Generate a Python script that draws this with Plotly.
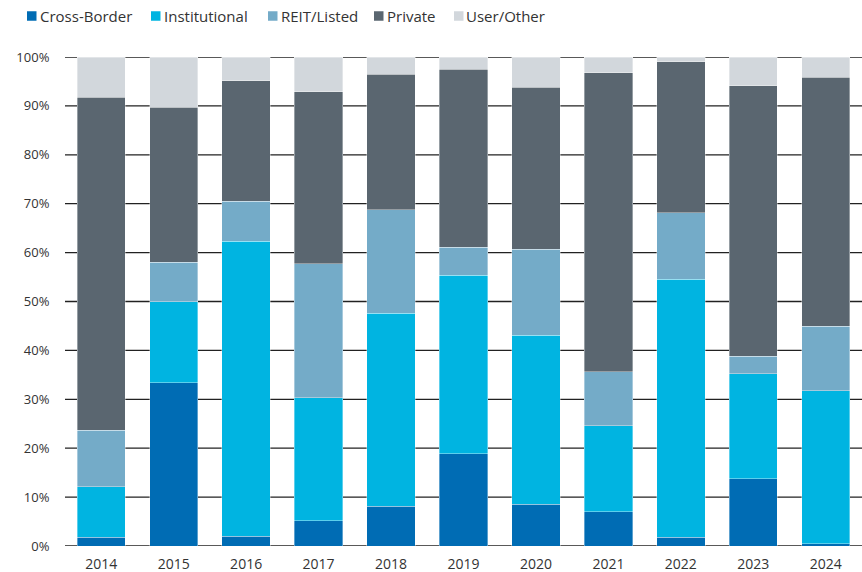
import plotly.graph_objects as go

years = ["2014", "2015", "2016", "2017", "2018", "2019", "2020", "2021", "2022", "2023", "2024"]

cross_border = [1.8, 33.4, 2.0, 5.2, 8.1, 18.9, 8.5, 7.0, 1.8, 13.8, 0.5]
institutional = [10.3, 16.5, 60.3, 25.1, 39.5, 36.5, 34.6, 17.6, 52.8, 21.4, 31.2]
reit_listed = [11.6, 8.1, 8.2, 27.4, 21.2, 5.7, 17.6, 11.0, 13.6, 3.6, 13.2]
private = [68.1, 31.7, 24.6, 35.2, 27.7, 36.4, 33.1, 61.2, 30.8, 55.3, 51.0]
user_other = [8.2, 10.3, 4.9, 7.1, 3.5, 2.5, 6.2, 3.2, 1.0, 5.9, 4.1]

y_ticks = [0, 10, 20, 30, 40, 50, 60, 70, 80, 90, 100]
y_tick_labels = [f"{v}%" for v in y_ticks]

W, H = 862, 572
M_L, M_R, M_T, M_B = 65, 0, 57, 26
PLOT_W = W - M_L - M_R
PLOT_H = H - M_T - M_B


def px_to_paper_x(px):
    return (px - M_L) / PLOT_W


def px_to_paper_y(py):
    return (H - M_B - py) / PLOT_H


# name, values, colour, legend swatch left edge (px)
series = [
    ("Cross-Border", cross_border, "#006cb4", 27),
    ("Institutional", institutional, "#00b4e1", 151),
    ("REIT/Listed", reit_listed, "#74abc8", 268),
    ("Private", private, "#5a6670", 374),
    ("User/Other", user_other, "#d2d7dc", 454),
]

fig = go.Figure()
for name, vals, color, _ in series:
    fig.add_trace(go.Bar(
        x=years, y=vals, name=name,
        marker=dict(color=color, line=dict(color="rgba(255,255,255,0.6)", width=0.6)),
    ))

# horizontal grid lines, kept beneath the bars
shapes = [
    dict(type="line", xref="paper", yref="y", x0=0, x1=1, y0=v, y1=v,
         line=dict(color="#222222", width=1.3), layer="below")
    for v in y_ticks
]

# legend row across the top: colour swatch followed by its label
SWATCH = 9.5
LEG_Y = 16
annotations = []
for name, _, color, sx in series:
    shapes.append(dict(
        type="rect", xref="paper", yref="paper",
        x0=px_to_paper_x(sx), x1=px_to_paper_x(sx + SWATCH),
        y0=px_to_paper_y(LEG_Y - SWATCH / 2), y1=px_to_paper_y(LEG_Y + SWATCH / 2),
        fillcolor=color, line=dict(width=0),
    ))
    annotations.append(dict(
        text=name, xref="paper", yref="paper",
        x=px_to_paper_x(sx + SWATCH + 1), y=px_to_paper_y(LEG_Y),
        xanchor="left", yanchor="middle", showarrow=False,
        font=dict(family="Open Sans", size=15, color="#333333"),
    ))

fig.update_layout(
    template="none",
    barmode="stack",
    bargap=0.333,
    width=W, height=H,
    margin=dict(l=M_L, r=M_R, t=M_T, b=M_B, pad=0),
    plot_bgcolor="white", paper_bgcolor="white",
    font=dict(family="Open Sans", size=13, color="#333333"),
    showlegend=False,
    shapes=shapes,
    annotations=annotations,
    yaxis=dict(
        range=[0, 100], tickmode="array", tickvals=y_ticks, ticktext=y_tick_labels,
        showgrid=False, zeroline=False, showline=False, ticks="outside", ticklen=12,
        tickcolor="rgba(0,0,0,0)", tickfont=dict(size=13, color="#333333"),
    ),
    xaxis=dict(
        type="category", showgrid=False, showline=False, zeroline=False,
        ticks="outside", ticklen=5, tickcolor="rgba(0,0,0,0)",
        tickfont=dict(size=14, color="#333333"),
    ),
)

fig.write_html("out.html")
